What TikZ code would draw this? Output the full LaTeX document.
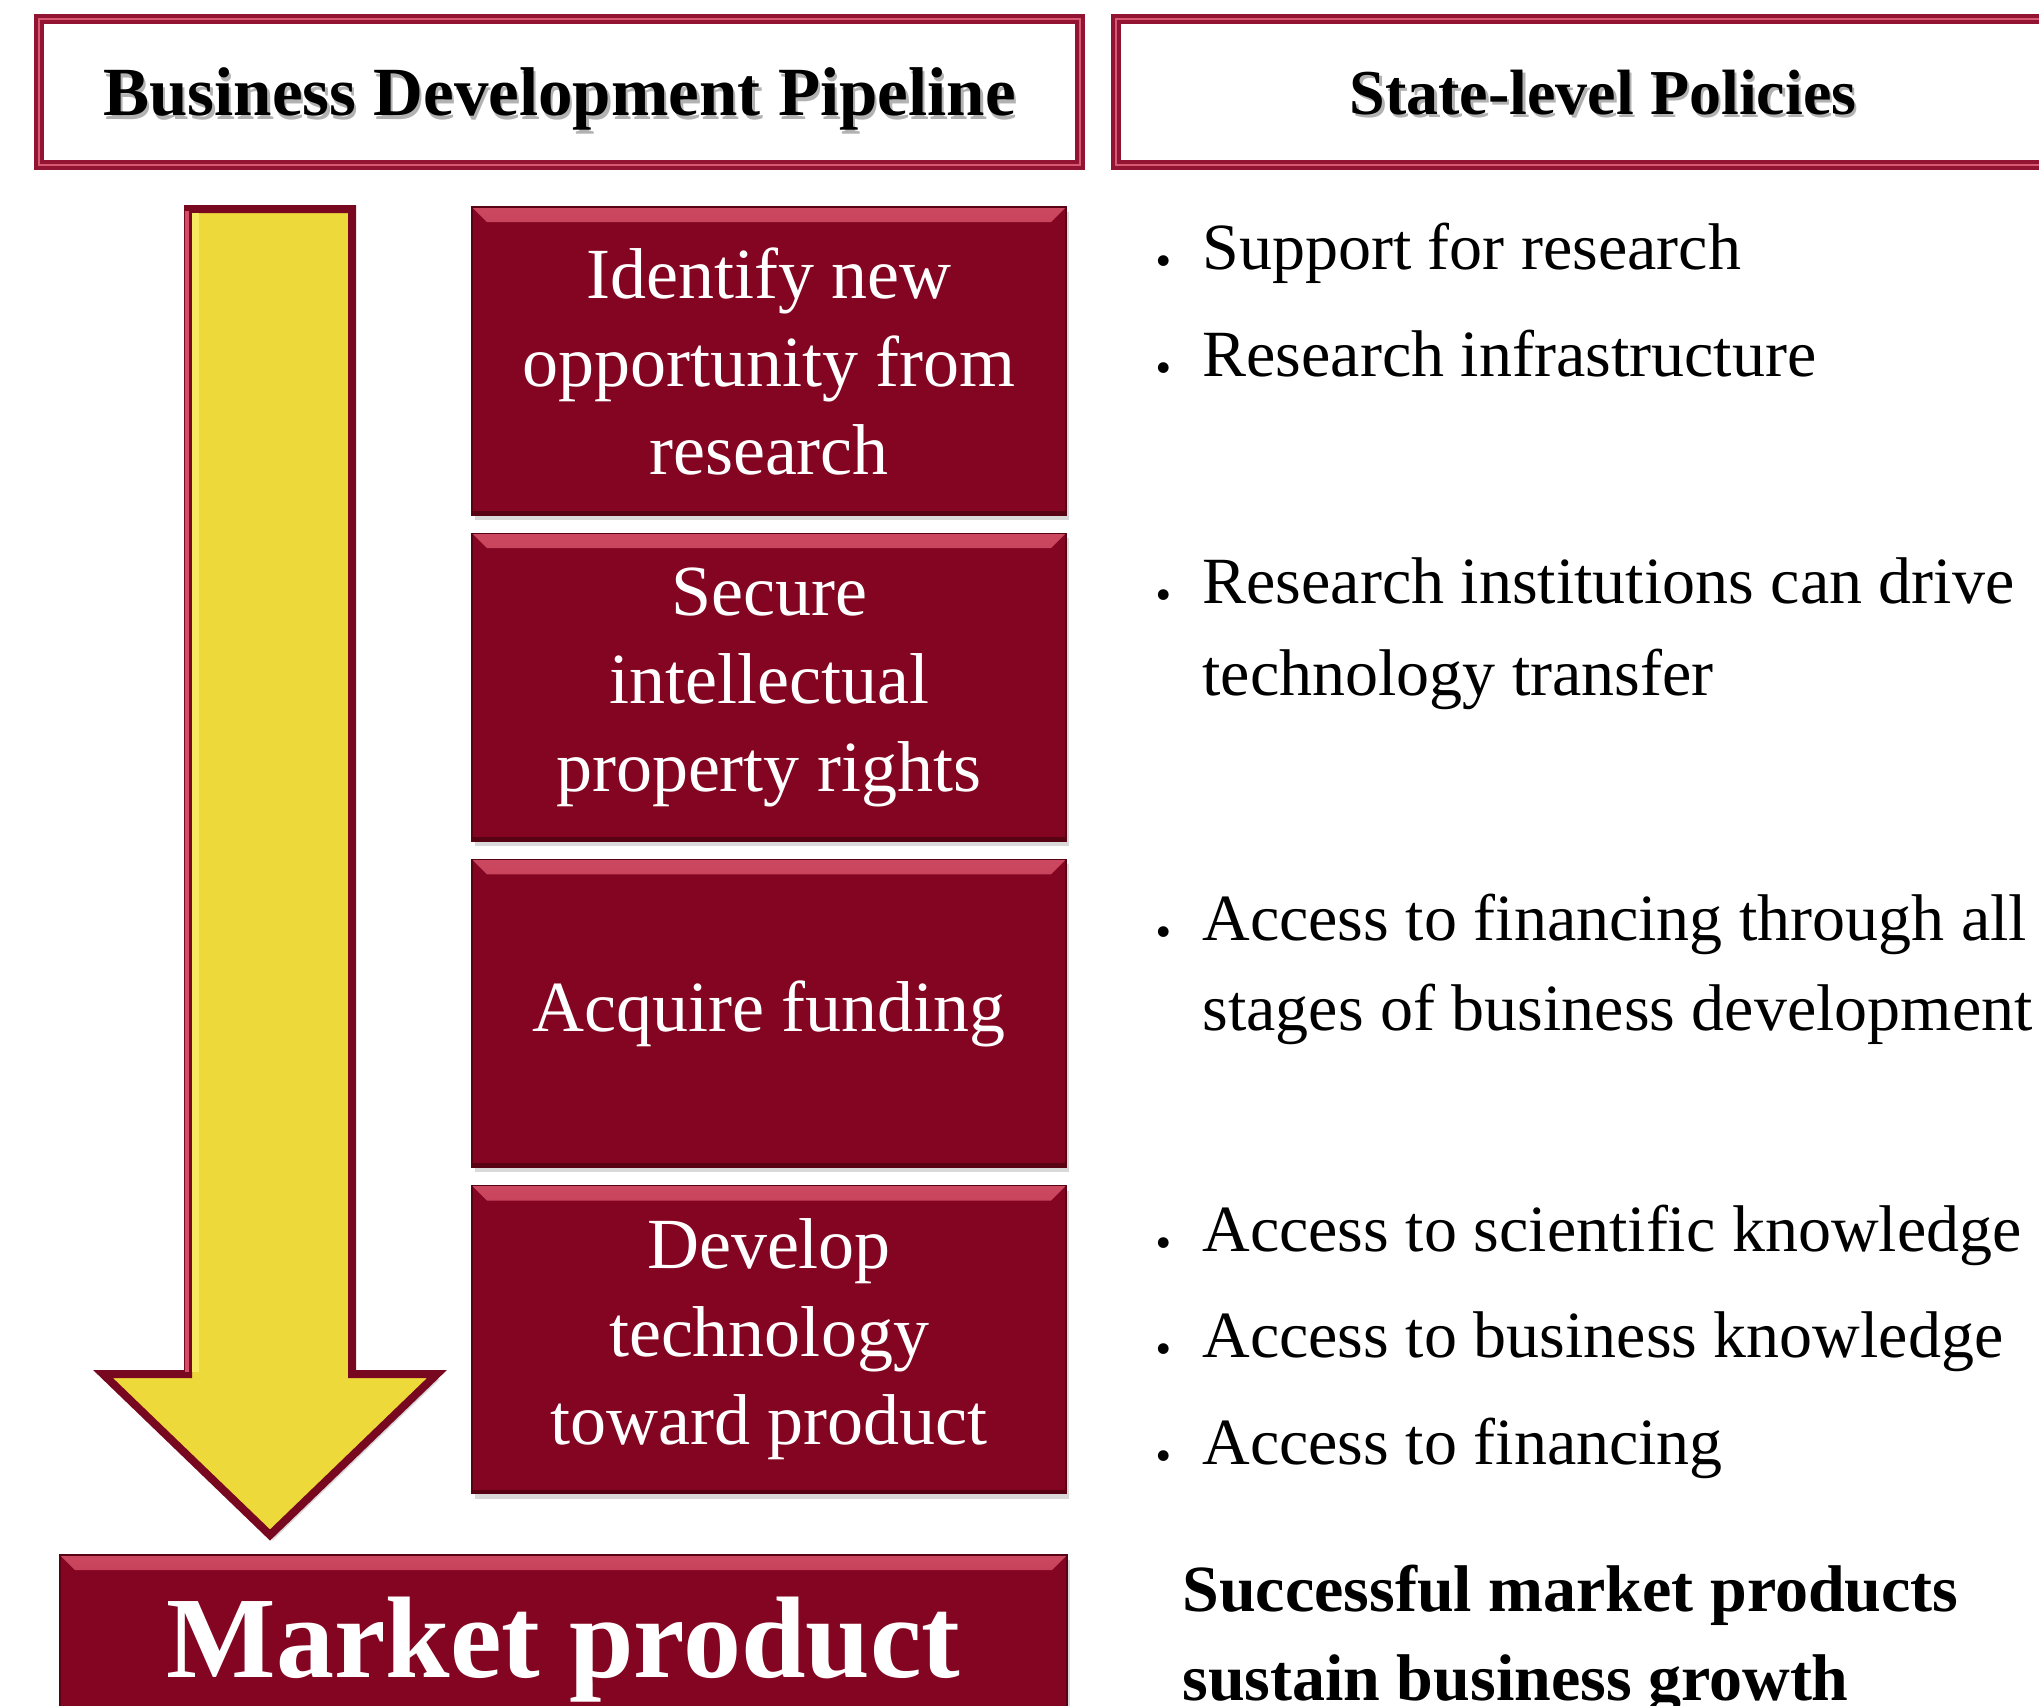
\documentclass[tikz,border=0pt]{standalone}
\usepackage{fontspec}
\setmainfont{Liberation Serif}
\usetikzlibrary{shadows}
\usetikzlibrary{positioning}

\definecolor{stagered}{RGB}{131,5,33}
\definecolor{bevellight}{RGB}{204,72,96}
\definecolor{stagedark}{RGB}{88,3,20}
\definecolor{headred}{RGB}{146,20,50}
\definecolor{headpink}{RGB}{214,90,114}
\definecolor{arrowrim}{RGB}{120,8,32}
\definecolor{arrowyellow}{RGB}{237,217,58}
\definecolor{arrowpink}{RGB}{212,76,104}
\definecolor{arrowhilite}{RGB}{247,234,96}

% soft grey copy behind the heading text
\newcommand{\headshade}[1]{\makebox[0pt][l]{\kern1.2pt\raisebox{-1.8pt}{\color{black!30}#1}}#1}
% bullet in front of a policy line
\newcommand{\bul}{\makebox[23.5pt][l]{\raisebox{2pt}{\textbf{.}}}}

\begin{document}
\begin{tikzpicture}[x=0.5pt,y=-0.5pt,
    headbox/.style={draw=headred, line width=1.9pt, double=headpink, double distance=1.2pt,
        fill=white, minimum height=73pt, inner sep=0pt, text depth=0pt,
        font=\fontsize{34.5}{40}\selectfont\bfseries,
        drop shadow={opacity=0.3, shadow xshift=1.5pt, shadow yshift=-2.5pt}},
    stagebox/.style={draw=stagedark, line width=0.6pt, fill=stagered, text=white,
        minimum width=297pt, minimum height=154pt, inner sep=0pt, align=center,
        font=\fontsize{36}{44}\selectfont,
        drop shadow={opacity=0.3, shadow xshift=1.5pt, shadow yshift=-2.5pt},
        path picture={
            \fill[top color=bevellight, bottom color=stagered]
                (path picture bounding box.north west) -- (path picture bounding box.north east)
                -- ([xshift=-7.5pt,yshift=-7.5pt]path picture bounding box.north east)
                -- ([xshift=7.5pt,yshift=-7.5pt]path picture bounding box.north west) -- cycle;
            \fill[stagedark] (path picture bounding box.south west)
                rectangle ([yshift=2pt]path picture bounding box.south east);
        }},
    policy/.style={anchor=base west, inner sep=0pt, font=\fontsize{33}{40}\selectfont}]

\useasboundingbox (0,0) rectangle (2039,1705);
\clip (0,0) rectangle (2039,1705);

% column headings
\node[headbox, minimum width=520.5pt] (pipeline) at (559.5,92) {\headshade{Business Development Pipeline}};
\node[headbox, minimum width=487pt, font=\fontsize{32}{36}\selectfont\bfseries] (policies) at (1603,92) {\headshade{State-level Policies}};

% big yellow arrow
\draw[arrowrim, fill=arrowyellow, line width=4pt, line join=miter,
    drop shadow={opacity=0.3, shadow xshift=1.5pt, shadow yshift=-2.5pt}]
    (188,209) -- (352,209) -- (352,1374) -- (437,1374) -- (270,1535) -- (103,1374) -- (188,1374) -- cycle;
\fill[arrowhilite] (192,213) rectangle (199,1372);
\draw[arrowpink, line width=2pt] (187,1372) -- (187,211);

% pipeline stages
\node[stagebox] (identify) at (769,361) {Identify new\\opportunity from\\research};
\node[stagebox, below=8.5pt of identify] (secure) {Secure\\intellectual\\property rights};
\node[stagebox, below=8.5pt of secure] (funding) {Acquire funding};
\node[stagebox, below=8.5pt of funding] (develop) {Develop\\technology\\toward product};
\node[stagebox, minimum width=503.5pt, minimum height=95pt,
    font=\fontsize{58}{60}\selectfont\bfseries] (market) at (563.5,1650) {Market product};

% policies
\node[policy] (support) at (1155,269) {\bul Support for research};
\node[policy] (infra) at (1155,376.5) {\bul Research infrastructure};
\node[policy] (institutions) at (1155,603.5) {\bul Research institutions can drive};
\node[policy] (transfer) at ([xshift=23.5pt,yshift=-46pt]institutions.base west) {technology transfer};
\node[policy] (financing) at (1155,940) {\bul Access to financing through all};
\node[policy] (stages) at ([xshift=23.5pt,yshift=-45pt]financing.base west) {stages of business development};
\node[policy] (science) at (1155,1251) {\bul Access to scientific knowledge};
\node[policy] (business) at (1155,1357) {\bul Access to business knowledge};
\node[policy] (funds) at (1155,1464.5) {\bul Access to financing};
\node[policy, font=\fontsize{33}{40}\selectfont\bfseries] (success) at (1182,1611) {Successful market products};
\node[policy, font=\fontsize{33}{40}\selectfont\bfseries] (sustain) at ([yshift=-44.5pt]success.base west) {sustain business growth};
\end{tikzpicture}
\end{document}
